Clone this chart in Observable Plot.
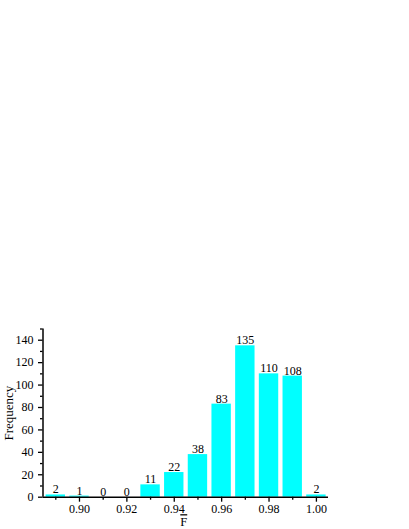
<!DOCTYPE html>
<html>
<head>
<meta charset="utf-8">
<script src="https://cdn.jsdelivr.net/npm/d3@7"></script>
<script src="https://cdn.jsdelivr.net/npm/@observablehq/plot@0.6"></script>
<style>
  html, body { margin: 0; padding: 0; background: #fff; }
  .xlab text { text-decoration: overline; }
</style>
</head>
<body>
<div id="chart"></div>
<script>
// Data
const binCenters = [0.89, 0.90, 0.91, 0.92, 0.93, 0.94, 0.95, 0.96, 0.97, 0.98, 0.99, 1.00];
const counts     = [2, 1, 0, 0, 11, 22, 38, 83, 135, 110, 108, 2];
const binWidth = 0.01;
const xMajorTicks = [0.90, 0.92, 0.94, 0.96, 0.98, 1.00];
const xMinorTicks = [0.89, 0.91, 0.93, 0.95, 0.97, 0.99];
const yMajorTicks = [0, 20, 40, 60, 80, 100, 120, 140];
const yMinorTicks = [10, 30, 50, 70, 90, 110, 130, 150];
const xDomain = [0.8846, 1.0051];
const yDomain = [0, 150];
const xLabel = "F";
const yLabel = "Frequency";

const data = binCenters.map((f, i) => ({f, n: counts[i]}));
const font = "'Liberation Serif', 'Times New Roman', serif";

const chart = Plot.plot({
  width: 409,
  height: 529,
  marginTop: 328.5,
  marginBottom: 32.3,
  marginLeft: 42.5,
  marginRight: 81,
  style: {fontFamily: font, fontSize: "12px", color: "#000", background: "#fff"},
  x: {domain: xDomain},
  y: {domain: yDomain},
  marks: [
    Plot.rectY(data, {
      x1: d => d.f - binWidth / 2,
      x2: d => d.f + binWidth / 2,
      y: "n",
      fill: "#00FFFF",
      insetLeft: 2.15,
      insetRight: 2.15
    }),
    Plot.text(data, {
      x: "f", y: "n", text: d => String(d.n),
      lineAnchor: "bottom", dy: -1.5, fontSize: 12, fill: "#000"
    }),
    Plot.ruleY([0], {stroke: "#000", strokeWidth: 1.5}),
    Plot.ruleX([xDomain[0]], {stroke: "#000", strokeWidth: 1.5}),
    Plot.axisX(xMajorTicks, {tickSize: 5, tickPadding: 2, tickFormat: d3.format(".2f"), label: null, fontSize: 12, strokeWidth: 1.3}),
    Plot.axisX(xMinorTicks, {tickSize: 3, tickFormat: () => "", label: null, strokeWidth: 1.3}),
    Plot.axisY(yMajorTicks, {tickSize: 4.5, tickPadding: 5, label: null, fontSize: 12, strokeWidth: 1.3}),
    Plot.axisY(yMinorTicks, {tickSize: 2.5, tickFormat: () => "", label: null, strokeWidth: 1.3}),
    Plot.text([yLabel], {frameAnchor: "left", textAnchor: "middle", lineAnchor: "middle", rotate: -90, dx: -34, fontSize: 13, fill: "#000"}),
    Plot.text([xLabel], {frameAnchor: "bottom", textAnchor: "middle", lineAnchor: "bottom", dx: -2, dy: 29, fontSize: 12.5, fill: "#000", className: "xlab"})
  ]
});
document.getElementById("chart").appendChild(chart);
</script>
</body>
</html>
